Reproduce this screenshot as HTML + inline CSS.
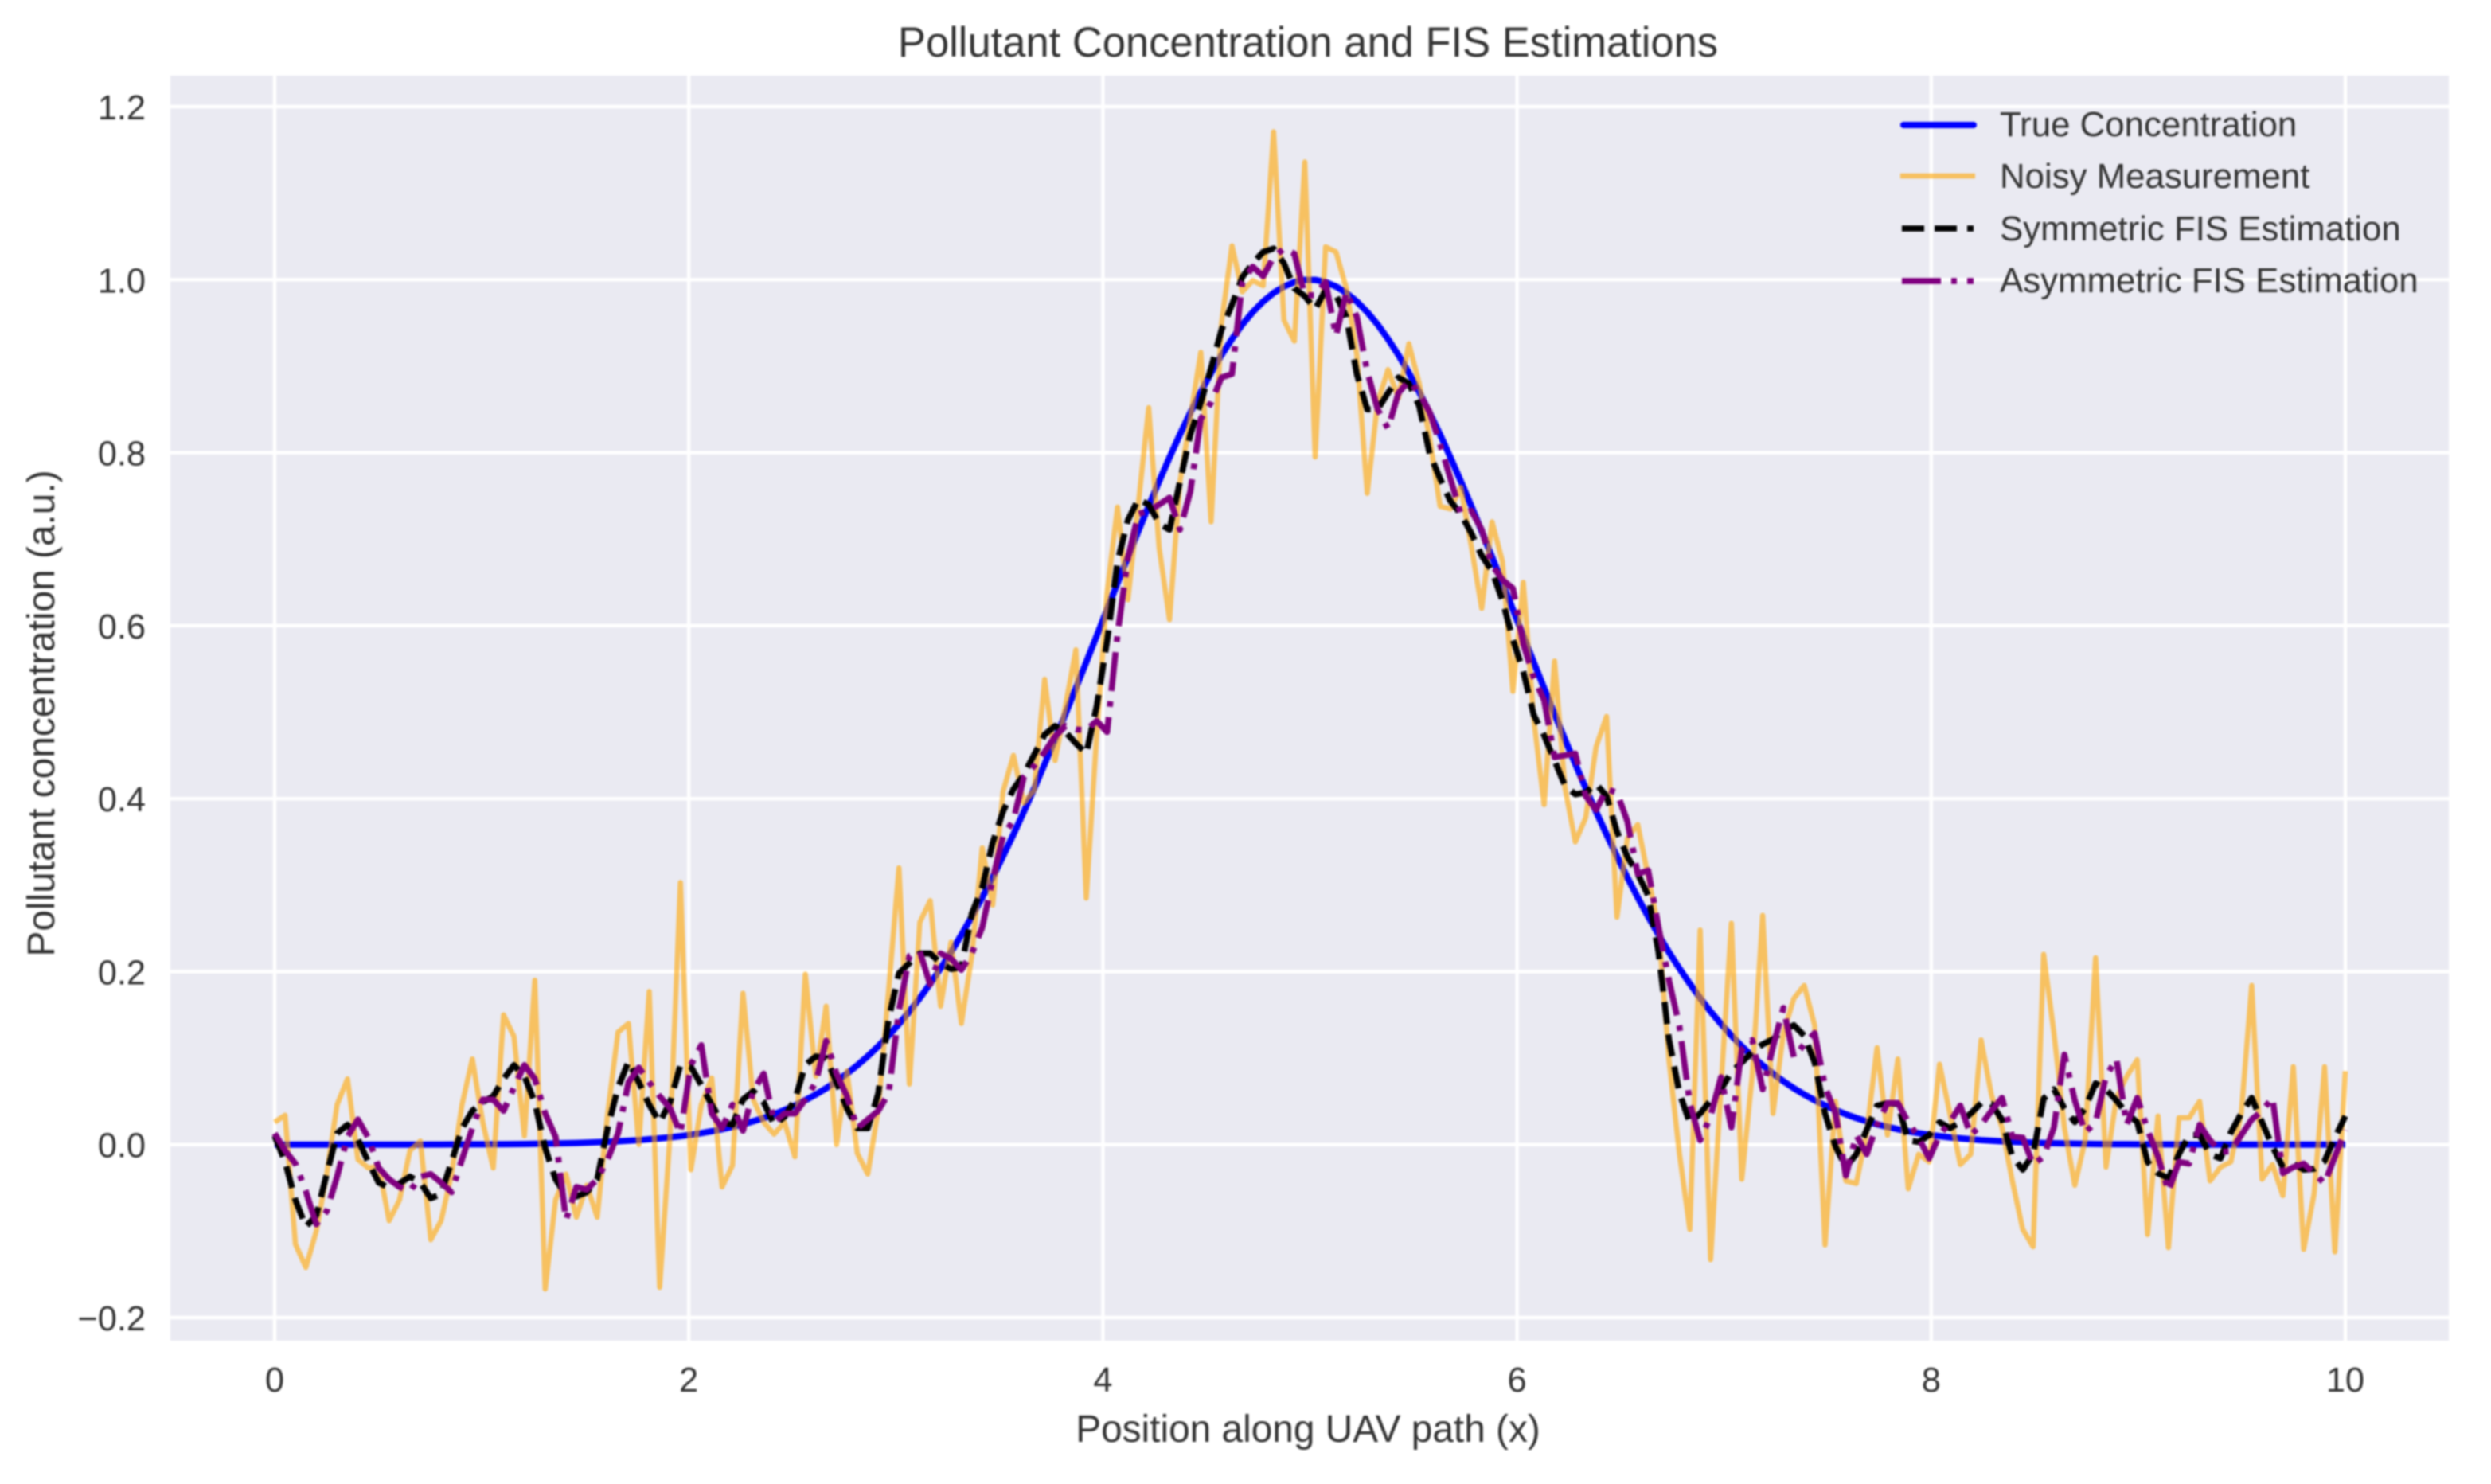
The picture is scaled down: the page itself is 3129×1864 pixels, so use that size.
<!DOCTYPE html>
<html lang="en">
<head>
<meta charset="utf-8">
<title>Pollutant Concentration and FIS Estimations</title>
<style>
  html, body { margin: 0; padding: 0; background: #ffffff; }
  svg { display: block; }
  text { font-family: "Liberation Sans", Arial, sans-serif; fill: #333333; }
</style>
</head>
<body>
<svg id="chart" xmlns="http://www.w3.org/2000/svg" width="3129" height="1864" viewBox="0 0 3129 1864">
  <g id="root" style="filter: blur(1.1px)">
    <rect x="0" y="0" width="3129" height="1864" fill="#ffffff"/>
    <rect x="214" y="95" width="2862" height="1589" fill="#eaeaf2"/>
    <g id="grid"></g>
    <g id="series"></g>
    <g id="xticks"></g>
    <g id="yticks"></g>
    <text x="1643" y="71" font-size="52.5" text-anchor="middle">Pollutant Concentration and FIS Estimations</text>
    <text x="1643" y="1811" font-size="47.8" text-anchor="middle">Position along UAV path (x)</text>
    <text transform="translate(68 896) rotate(-90)" font-size="47.8" text-anchor="middle">Pollutant concentration (a.u.)</text>
    <g>
      <g>
        <line x1="2391" y1="157" x2="2479" y2="157" stroke="#0000ff" stroke-width="8" stroke-linecap="round"/>
        <text x="2512" y="171" font-size="43.8">True Concentration</text>
      </g>
      <g>
        <line x1="2387" y1="221" x2="2481" y2="221" stroke="#ffa500" stroke-opacity="0.6" stroke-width="6.5"/>
        <text x="2512" y="236" font-size="43.8">Noisy Measurement</text>
      </g>
      <g>
        <line x1="2389" y1="287" x2="2479" y2="287" stroke="#000000" stroke-width="7.6" stroke-dasharray="28 13"/>
        <text x="2512" y="302" font-size="43.8">Symmetric FIS Estimation</text>
      </g>
      <g>
        <line x1="2389" y1="353" x2="2479" y2="353" stroke="#800080" stroke-width="7.6" stroke-dasharray="49 13 7 13"/>
        <text x="2512" y="367" font-size="43.8">Asymmetric FIS Estimation</text>
      </g>
    </g>
  </g>
</svg>
<script>
const xTicks = [0, 2, 4, 6, 8, 10];
const xTickLabels = ["0", "2", "4", "6", "8", "10"];
const yTicks = [-0.2, 0, 0.2, 0.4, 0.6, 0.8, 1.0, 1.2];
const yTickLabels = ["\u22120.2", "0.0", "0.2", "0.4", "0.6", "0.8", "1.0", "1.2"];

const trueConcentration = [
0,0,0,0,0,0,0,0,0,0,0,0,0,0,0,
.0001,.0001,.0002,.0002,.0003,.0003,.0004,.0005,.0006,.0007,.0009,.0011,.0013,.0016,.0019,
.0022,.0027,.0032,.0038,.0044,.0052,.0062,.0072,.0084,.0098,.0114,.0133,.0154,.0178,.0205,
.0235,.027,.0308,.0351,.04,.0453,.0513,.0579,.0652,.0733,.0821,.0917,.1022,.1137,.1261,
.1395,.1539,.1694,.186,.2037,.2225,.2425,.2635,.2857,.309,.3333,.3586,.3849,.412,.44,
.4686,.4979,.5277,.5579,.5882,.6187,.6491,.6793,.7091,.7383,.7668,.7945,.821,.8462,.8701,
.8923,.9128,.9314,.9481,.9625,.9748,.9847,.9921,.9972,.9997,
.9997,.9972,.9921,.9847,.9748,.9625,.9481,.9314,.9128,.8923,
.8701,.8462,.821,.7945,.7668,.7383,.7091,.6793,.6491,.6187,
.5882,.5579,.5277,.4979,.4686,.44,.412,.3849,.3586,.3333,
.309,.2857,.2635,.2425,.2225,.2037,.186,.1694,.1539,.1395,
.1261,.1137,.1022,.0917,.0821,.0733,.0652,.0579,.0513,.0453,
.04,.0351,.0308,.027,.0235,.0205,.0178,.0154,.0133,.0114,
.0098,.0084,.0072,.0062,.0052,.0044,.0038,.0032,.0027,.0022,
.0019,.0016,.0013,.0011,.0009,.0007,.0006,.0005,.0004,.0003,
.0003,.0002,.0002,.0001,.0001,0,0,0,0,0,0,0,0,0,0,0,0,0,0,0
];

const noisyMeasurement = [
.026,.034,-.115,-.142,-.10,-.034,.046,.076,-.017,-.027,
-.025,-.088,-.064,-.007,.004,-.11,-.088,-.034,.046,.099,
.026,-.027,.15,.125,.01,.19,-.167,-.064,-.034,-.084,
-.047,-.084,.036,.13,.14,0,.177,-.165,.012,.303,
-.029,.046,.077,-.049,-.024,.175,.052,.026,.012,.026,
-.014,.197,.079,.16,0,.085,-.01,-.034,.04,.178,
.32,.07,.257,.282,.16,.234,.14,.218,.343,.277,
.408,.45,.395,.41,.538,.444,.507,.572,.285,.474,
.638,.737,.63,.74,.852,.69,.607,.766,.84,.916,
.72,.95,1.039,.986,.999,.993,1.171,.953,.929,1.136,
.795,1.038,1.032,.99,.913,.753,.858,.896,.863,.926,
.88,.817,.738,.735,.76,.692,.62,.72,.674,.524,
.65,.493,.393,.559,.413,.35,.378,.46,.495,.263,
.354,.37,.31,.25,.098,-.01,-.098,.248,-.133,.067,
.256,-.04,.08,.265,.036,.129,.169,.184,.138,-.116,
.05,-.042,-.045,.014,.112,.011,.099,-.051,-.011,-.02,
.093,.036,-.023,-.011,.121,.057,.02,-.042,-.098,-.118,
.22,.129,.02,-.047,.005,.216,-.026,.054,.079,.098,
-.104,.033,-.119,.031,.031,.05,-.042,-.026,-.02,.036,
.184,-.04,-.023,-.059,.09,-.121,-.057,.09,-.124,.085
];

const symmetricFis = [
.01,-.02,-.064,-.095,-.082,-.034,.013,.023,.006,-.02,
-.044,-.05,-.045,-.037,-.044,-.062,-.057,-.02,.019,.039,
.049,.056,.076,.092,.079,.049,-.004,-.04,-.059,-.06,
-.055,-.04,.019,.066,.096,.072,.046,.026,.049,.092,
.09,.069,.046,.026,.023,.052,.062,.049,.023,.032,
.052,.092,.102,.1,.072,.042,.019,.019,.059,.145,
.198,.21,.221,.221,.21,.203,.205,.267,.297,.349,
.385,.411,.428,.451,.474,.484,.477,.464,.452,.507,
.582,.674,.722,.746,.74,.718,.711,.766,.821,.858,
.898,.942,.971,1.003,1.019,1.032,1.036,1.019,.99,.981,
.966,.988,.982,.957,.891,.85,.85,.869,.887,.88,
.854,.799,.77,.744,.729,.707,.681,.663,.629,.584,
.547,.497,.473,.444,.415,.405,.407,.417,.403,.362,
.333,.313,.288,.222,.122,.06,.025,.036,.051,.064,
.084,.095,.107,.116,.122,.132,.138,.126,.095,.036,
-.002,-.026,-.011,.017,.045,.048,.047,.005,.003,.011,
.026,.019,.026,.036,.048,.047,.029,-.014,-.029,-.011,
.053,.064,.042,.026,.042,.071,.064,.051,.036,.026,
-.02,-.033,-.039,-.011,.011,.011,-.011,-.016,.014,.036,
.054,.026,-.002,-.026,-.022,-.029,-.028,-.019,.008,.033
];

const asymmetricFis = [
.013,-.007,-.022,-.054,-.092,-.077,-.037,.009,.029,.008,
-.027,-.04,-.049,-.054,-.037,-.034,-.044,-.055,-.017,.019,
.052,.052,.039,.066,.092,.076,.036,.009,-.087,-.049,
-.052,-.04,-.017,.013,.072,.089,.072,.056,.042,.013,
.092,.115,.036,.019,.046,.016,.062,.082,.026,.036,
.036,.052,.072,.12,.082,.056,.019,.029,.039,.059,
.155,.218,.223,.185,.221,.215,.202,.221,.251,.307,
.356,.375,.425,.438,.454,.472,.484,.48,.479,.49,
.477,.59,.678,.729,.733,.74,.748,.711,.755,.839,
.858,.887,.891,.997,1.015,1.004,1.026,1.036,1.03,.982,
.982,.997,.935,.986,.957,.894,.85,.828,.869,.883,
.869,.847,.81,.77,.729,.733,.711,.67,.653,.643,
.579,.54,.514,.448,.45,.452,.403,.387,.411,.407,
.374,.313,.317,.251,.19,.137,.048,.005,.033,.078,
.02,.11,.121,.064,.113,.158,.101,.116,.129,.067,
.036,-.036,.011,-.011,.023,.048,.048,.026,.008,-.016,
.011,.026,.045,.011,.023,.039,.054,.009,.008,-.023,
-.014,.02,.104,.051,.014,.026,.079,.099,.023,.054,
.017,-.014,-.054,-.02,-.022,.023,.005,-.008,-.008,.011,
.029,.039,.054,-.033,-.026,-.022,-.033,-.045,-.014,.017
];

const xDomain = [0, 10];
const yDomain = [-0.2, 1.2];
const xRange = [345, 2946];
const yRange = [1655, 134];
const SVG_NS = "http://www.w3.org/2000/svg";

function xScale(v) {
  return xRange[0] + (v - xDomain[0]) / (xDomain[1] - xDomain[0]) * (xRange[1] - xRange[0]);
}
function yScale(v) {
  return yRange[0] + (v - yDomain[0]) / (yDomain[1] - yDomain[0]) * (yRange[1] - yRange[0]);
}
function sampleX(i, n) {
  return xDomain[0] + i * (xDomain[1] - xDomain[0]) / (n - 1);
}
function linePath(values) {
  let d = "";
  for (let i = 0; i < values.length; i++) {
    const px = xScale(sampleX(i, values.length)).toFixed(1);
    const py = yScale(values[i]).toFixed(1);
    d += (i === 0 ? "M" : "L") + px + " " + py;
  }
  return d;
}

const grid = document.getElementById("grid");
xTicks.forEach(function (t) {
  const el = document.createElementNS(SVG_NS, "line");
  
  
  el.setAttribute("x1", xScale(t));
  el.setAttribute("x2", xScale(t));
  el.setAttribute("y1", 95);
  el.setAttribute("y2", 1684);
  el.setAttribute("stroke", "#ffffff");
  el.setAttribute("stroke-width", 4.4);
  grid.appendChild(el);
});
yTicks.forEach(function (t) {
  const el = document.createElementNS(SVG_NS, "line");
  
  
  el.setAttribute("x1", 214);
  el.setAttribute("x2", 3076);
  el.setAttribute("y1", yScale(t));
  el.setAttribute("y2", yScale(t));
  el.setAttribute("stroke", "#ffffff");
  el.setAttribute("stroke-width", 4.4);
  grid.appendChild(el);
});

const xTickGroup = document.getElementById("xticks");
xTicks.forEach(function (t, i) {
  const el = document.createElementNS(SVG_NS, "text");
  
  
  el.setAttribute("x", xScale(t));
  el.setAttribute("y", 1748);
  el.setAttribute("font-size", 43.3);
  el.setAttribute("text-anchor", "middle");
  el.textContent = xTickLabels[i];
  xTickGroup.appendChild(el);
});

const yTickGroup = document.getElementById("yticks");
yTicks.forEach(function (t, i) {
  const el = document.createElementNS(SVG_NS, "text");
  
  
  el.setAttribute("x", 183);
  el.setAttribute("y", yScale(t) + 16);
  el.setAttribute("font-size", 43.3);
  el.setAttribute("text-anchor", "end");
  el.textContent = yTickLabels[i];
  yTickGroup.appendChild(el);
});

const seriesGroup = document.getElementById("series");

const trueLine = document.createElementNS(SVG_NS, "path");


trueLine.setAttribute("d", linePath(trueConcentration));
trueLine.setAttribute("fill", "none");
trueLine.setAttribute("stroke", "#0000ff");
trueLine.setAttribute("stroke-width", 8);
trueLine.setAttribute("stroke-linejoin", "round");
seriesGroup.appendChild(trueLine);

const noisyLine = document.createElementNS(SVG_NS, "path");


noisyLine.setAttribute("d", linePath(noisyMeasurement));
noisyLine.setAttribute("fill", "none");
noisyLine.setAttribute("stroke", "#ffa500");
noisyLine.setAttribute("stroke-opacity", 0.6);
noisyLine.setAttribute("stroke-width", 6.5);
noisyLine.setAttribute("stroke-linejoin", "round");
seriesGroup.appendChild(noisyLine);

const symmetricLine = document.createElementNS(SVG_NS, "path");


symmetricLine.setAttribute("d", linePath(symmetricFis));
symmetricLine.setAttribute("fill", "none");
symmetricLine.setAttribute("stroke", "#000000");
symmetricLine.setAttribute("stroke-width", 7.6);
symmetricLine.setAttribute("stroke-linejoin", "round");
symmetricLine.setAttribute("stroke-dasharray", "28 13");
seriesGroup.appendChild(symmetricLine);

const asymmetricLine = document.createElementNS(SVG_NS, "path");


asymmetricLine.setAttribute("d", linePath(asymmetricFis));
asymmetricLine.setAttribute("fill", "none");
asymmetricLine.setAttribute("stroke", "#800080");
asymmetricLine.setAttribute("stroke-width", 7.6);
asymmetricLine.setAttribute("stroke-linejoin", "round");
asymmetricLine.setAttribute("stroke-dasharray", "49 13 7 13");
seriesGroup.appendChild(asymmetricLine);
</script>
</body>
</html>
